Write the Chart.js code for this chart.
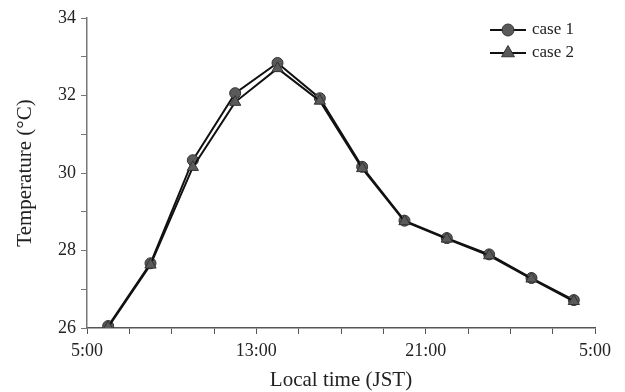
<!DOCTYPE html>
<html>
<head>
<meta charset="utf-8">
<script src="https://cdn.jsdelivr.net/npm/chart.js@4"></script>
<style>
   html, body { margin: 0; padding: 0; background: #fff; }
   #wrap { width: 625px; height: 392px; }
</style>
</head>
<body>
<div id="wrap"><canvas id="tempChart" width="625" height="392"></canvas></div>
<script>
// hours since midnight (28 = 4:00 next day)
const hours = [6, 8, 10, 12, 14, 16, 18, 20, 22, 24, 26, 28];
const case1 = [26.05, 27.67, 30.33, 32.06, 32.84, 31.93, 30.16, 28.77, 28.32, 27.9, 27.29, 26.72];
const case2 = [26.02, 27.63, 30.15, 31.83, 32.70, 31.86, 30.12, 28.75, 28.30, 27.87, 27.27, 26.69];
const xTickLabels = [5, 13, 21, 29];
const yTickLabels = [26, 28, 30, 32, 34];

const serif = "'Liberation Serif', 'DejaVu Serif', serif";

function toPoints(values) {
   return hours.map((h, i) => ({ x: h, y: values[i] }));
}

// little legend in the top right corner, line + marker + text
const cornerLegend = {
   id: "cornerLegend",
   afterDraw(chart) {
      const ctx = chart.ctx;
      const rows = [{ ds: chart.data.datasets[0], y: 30, r: 6 }, { ds: chart.data.datasets[1], y: 53, r: 7.5 }];
      rows.forEach(row => {
         ctx.save();
         ctx.strokeStyle = "#111";
         ctx.lineWidth = 2;
         ctx.beginPath();
         ctx.moveTo(490, row.y);
         ctx.lineTo(526, row.y);
         ctx.stroke();
         ctx.fillStyle = row.ds.pointBackgroundColor;
         ctx.strokeStyle = row.ds.pointBorderColor;
         ctx.lineWidth = 1;
         Chart.helpers.drawPoint(ctx, {
            pointStyle: row.ds.pointStyle,
            radius: row.r,
            borderWidth: 1
         }, 508, row.y);
         ctx.fillStyle = "#222";
         ctx.font = "17px " + serif;
         ctx.textBaseline = "middle";
         ctx.textAlign = "left";
         ctx.fillText(row.ds.label, 532, row.y);
         ctx.restore();
      });
   }
};

const ctx = document.getElementById("tempChart").getContext("2d");
new Chart(ctx, {
   type: "line",
   data: {
      datasets: [{
         label: "case 1",
         data: toPoints(case1),
         borderColor: "#111",
         borderWidth: 2,
         pointStyle: "circle",
         pointRadius: 5.5,
         pointBackgroundColor: "#5a5a5a",
         pointBorderColor: "#333",
         pointBorderWidth: 1,
         tension: 0,
         order: 2
      }, {
         label: "case 2",
         data: toPoints(case2),
         borderColor: "#111",
         borderWidth: 2,
         pointStyle: "triangle",
         pointRadius: 6.5,
         pointBackgroundColor: "#5a5a5a",
         pointBorderColor: "#333",
         pointBorderWidth: 1,
         tension: 0,
         order: 1
      }]
   },
   options: {
      responsive: false,
      animation: false,
      layout: { padding: { left: 13, right: 30, top: 18, bottom: 0 } },
      plugins: {
         legend: { display: false },
         tooltip: { enabled: false }
      },
      scales: {
         x: {
            type: "linear",
            min: 5,
            max: 29,
            afterFit: s => { s.height = 64; },
            afterBuildTicks: s => { s.ticks = []; for (let v = 5; v <= 29; v += 2) s.ticks.push({ value: v }); },
            ticks: {
               autoSkip: false,
               maxRotation: 0,
               padding: 6,
               color: "#222",
               font: { family: serif, size: 18 },
               callback: v => xTickLabels.includes(v) ? (v % 24) + ":00" : ""
            },
            grid: { drawOnChartArea: false, drawTicks: true, tickLength: 6, color: "#555", lineWidth: 1 },
            border: { color: "#555", width: 1.5 },
            title: {
               display: true,
               text: "Local time (JST)",
               color: "#222",
               font: { family: serif, size: 21, lineHeight: 1.1 },
               padding: { top: 0, bottom: 0 }
            }
         },
         y: {
            min: 26,
            max: 34,
            afterFit: s => { s.width = 74; },
            ticks: {
               stepSize: 1,
               padding: 5,
               color: "#222",
               font: { family: serif, size: 18 },
               callback: v => yTickLabels.includes(v) ? String(v) : ""
            },
            grid: { drawOnChartArea: false, drawTicks: true, tickLength: 6, color: "#777", lineWidth: 1 },
            border: { color: "#777", width: 1.5 },
            title: {
               display: true,
               text: "Temperature (°C)",
               color: "#222",
               font: { family: serif, size: 21 },
               padding: { top: 0, bottom: 0 }
            }
         }
      }
   },
   plugins: [cornerLegend]
});
</script>
</body>
</html>
